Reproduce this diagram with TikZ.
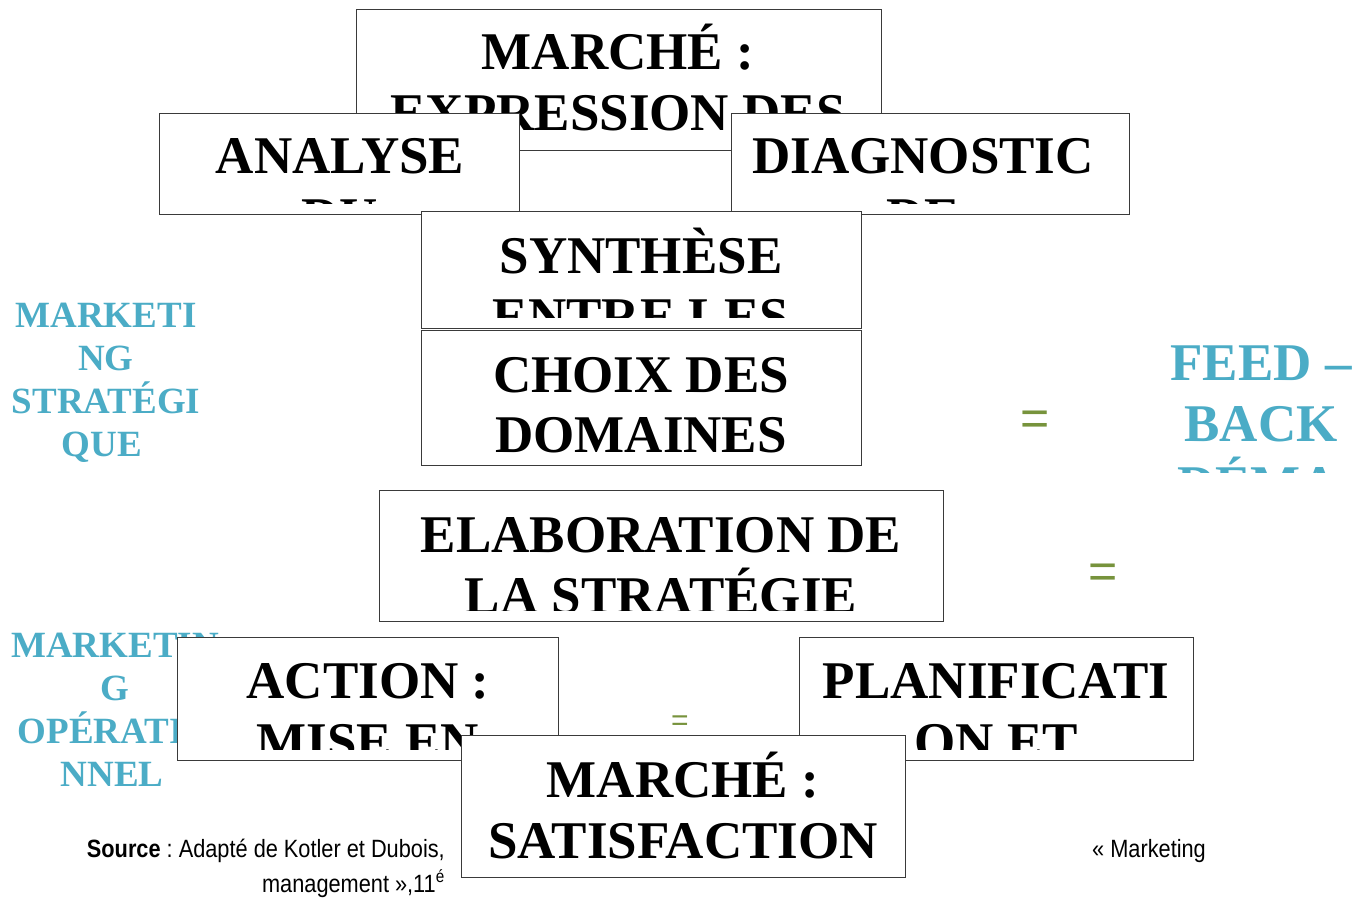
\documentclass[tikz,border=0pt]{standalone}
\usepackage{fontspec}
\setmainfont{Liberation Serif}
\newfontfamily\srcfont[FakeStretch=0.87]{Liberation Sans}
\newfontfamily\eqfont{Liberation Sans}
\frenchspacing
\definecolor{tealblue}{HTML}{4BACC6}
\definecolor{eqgreen}{HTML}{77933C}
\definecolor{boxline}{HTML}{3A3A3A}
\tikzset{
  stagebox/.style={draw=boxline, line width=0.9pt, fill=white, inner sep=0pt,
    anchor=north west},
  boxtext/.style={font=\bfseries\fontsize{53}{61}\selectfont, inner sep=0pt, anchor=base},
  sidetext/.style={font=\bfseries\fontsize{37}{43}\selectfont, text=tealblue,
    inner sep=0pt, anchor=base},
  bigside/.style={font=\bfseries\fontsize{53}{61}\selectfont, text=tealblue,
    inner sep=0pt, anchor=base},
  eqsign/.style={font=\eqfont, text=eqgreen, inner sep=0pt, anchor=base},
  srctext/.style={font=\srcfont\fontsize{25}{30}\selectfont, inner sep=0pt},
}
% clip the text of a box to its inner area
\newcommand{\boxclip}[1]{\clip ([xshift=1pt,yshift=-1pt]#1.north west) rectangle ([xshift=-1pt,yshift=11pt]#1.south east);}
\begin{document}
\begin{tikzpicture}[x=1pt,y=-1pt]
\useasboundingbox[fill=white] (0,0) rectangle (1365,898);

% side labels
\node[sidetext] (ms1) at (106,327) {MARKETI};
\node[sidetext] (ms2) at (106,370) {NG};
\node[sidetext] (ms3) at (106,413) {STRATÉGI};
\node[sidetext] (ms4) at (102,456) {QUE};

\node[sidetext] (mo1) at (115,657) {MARKETIN};
\node[sidetext] (mo2) at (115,700) {G};
\node[sidetext] (mo3) at (115,743) {OPÉRATIO};
\node[sidetext] (mo4) at (112,786) {NNEL};

\begin{scope}
  \clip (1150,300) rectangle (1365,472);
  \node[bigside] (fb1) at (1261,380) {FEED –};
  \node[bigside] (fb2) at (1261,441) {BACK};
  \node[bigside] (fb3) at (1258,502) {DÉMA};
\end{scope}

% equal signs
\node[eqsign, font=\eqfont\fontsize{50}{60}\selectfont] (eq1) at (1035,435) {=};
\node[eqsign, font=\eqfont\fontsize{50}{60}\selectfont] (eq2) at (1103,588) {=};
\node[eqsign, font=\eqfont\fontsize{30}{36}\selectfont] (eq3) at (680,730) {=};

% market: expression of needs
\node[stagebox, minimum width=525pt, minimum height=141pt] (b1) at (356,9) {};
\begin{scope}\boxclip{b1}
  \node[boxtext] (b1a) at (618,69) {MARCHÉ :};
  \node[boxtext] (b1b) at (618,130) {EXPRESSION DES};
\end{scope}

% analysis
\node[stagebox, minimum width=360pt, minimum height=101pt] (b2) at (159,113) {};
\begin{scope}\boxclip{b2}
  \node[boxtext] (b2a) at (340,173) {ANALYSE};
  \node[boxtext] (b2b) at (340,234) {DU};
\end{scope}

% diagnosis
\node[stagebox, minimum width=398pt, minimum height=101pt] (b3) at (731,113) {};
\begin{scope}\boxclip{b3}
  \node[boxtext] (b3a) at (923,173) {DIAGNOSTIC};
  \node[boxtext] (b3b) at (923,234) {DE};
\end{scope}

% synthesis
\node[stagebox, minimum width=440pt, minimum height=117pt] (b4) at (421,211) {};
\begin{scope}\boxclip{b4}
  \node[boxtext] (b4a) at (641,273) {SYNTHÈSE};
  \node[boxtext] (b4b) at (641,334) {ENTRE LES};
\end{scope}

% choice of domains
\node[stagebox, minimum width=440pt, minimum height=135pt] (b5) at (421,330) {};
\begin{scope}\boxclip{b5}
  \node[boxtext] (b5a) at (641,392) {CHOIX DES};
  \node[boxtext] (b5b) at (641,452) {DOMAINES};
\end{scope}

% strategy
\node[stagebox, minimum width=564pt, minimum height=131pt] (b6) at (379,490) {};
\begin{scope}\boxclip{b6}
  \node[boxtext] (b6a) at (661,552) {ELABORATION DE};
  \node[boxtext] (b6b) at (661,613) {LA STRATÉGIE};
\end{scope}

% action
\node[stagebox, minimum width=381pt, minimum height=123pt] (b7) at (177,637) {};
\begin{scope}\boxclip{b7}
  \node[boxtext] (b7a) at (368,698) {ACTION :};
  \node[boxtext] (b7b) at (368,759) {MISE EN};
\end{scope}

% planning
\node[stagebox, minimum width=394pt, minimum height=123pt] (b8) at (799,637) {};
\begin{scope}\boxclip{b8}
  \node[boxtext] (b8a) at (996,698) {PLANIFICATI};
  \node[boxtext] (b8b) at (996,759) {ON ET};
\end{scope}

% market: satisfaction
\node[stagebox, minimum width=444pt, minimum height=142pt] (b9) at (461,735) {};
\begin{scope}\boxclip{b9}
  \node[boxtext] (b9a) at (683,797) {MARCHÉ :};
  \node[boxtext] (b9b) at (683,858) {SATISFACTION};
\end{scope}

% source
\node[srctext, anchor=base east] (src1) at (445,857) {\textbf{Source} : Adapté de Kotler et Dubois,};
\node[srctext, anchor=base east] (src2) at (445,892) {management »,11\textsuperscript{é}};
\node[srctext, anchor=base west] (src3) at (1092,857) {« Marketing};
\end{tikzpicture}
\end{document}
